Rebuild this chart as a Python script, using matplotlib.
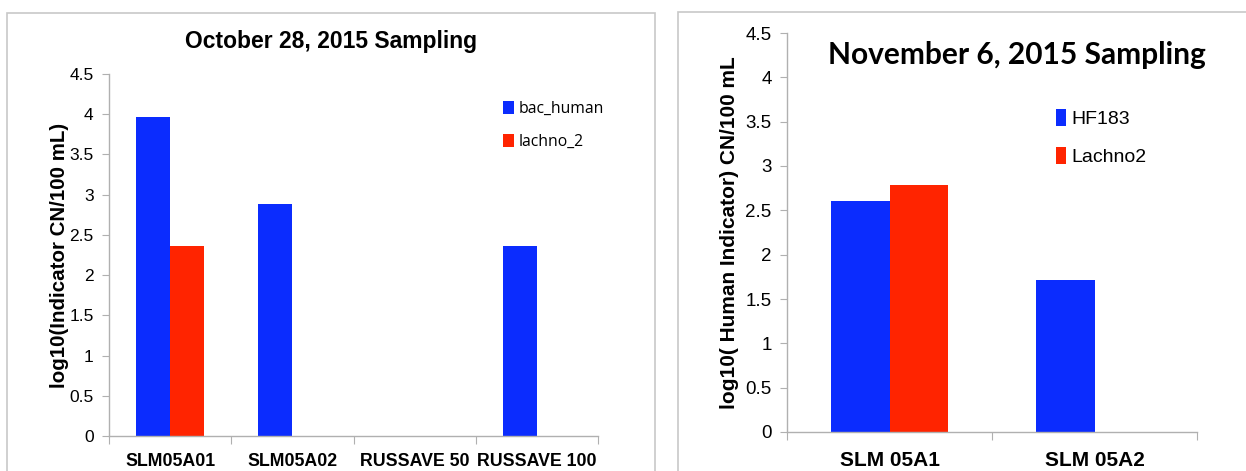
import matplotlib.pyplot as plt
import matplotlib.patches as mpatches
import numpy as np

# October 28 sampling
oct_sites = ['SLM05A01', 'SLM05A02', 'RUSSAVE 50', 'RUSSAVE 100']
oct_bac_human = [3.97, 2.88, 0.0, 2.36]
oct_lachno_2 = [2.36, 0.0, 0.0, 0.0]

# November 6 sampling
nov_sites = ['SLM 05A1', 'SLM 05A2']
nov_hf183 = [2.61, 1.71]
nov_lachno2 = [2.79, 0.0]

blue = '#0b2cfe'
red = '#ff2400'
gray = '#b0b0b0'

plt.rcParams['font.family'] = ['Liberation Sans', 'DejaVu Sans']

fig = plt.figure(figsize=(12.46, 4.71), dpi=100)

# panel frames
fig.add_artist(mpatches.Rectangle((7 / 1246, -0.05), 648 / 1246, 1 - 13 / 471 + 0.05,
                                  transform=fig.transFigure, fill=False, edgecolor='#c8c8c8', lw=1.2))
fig.add_artist(mpatches.Rectangle((678 / 1246, -0.05), 0.5, 1 - 12 / 471 + 0.05,
                                  transform=fig.transFigure, fill=False, edgecolor='#c8c8c8', lw=1.2))


def style_axes(ax, n, ymax):
    for s in ['top', 'right']:
        ax.spines[s].set_visible(False)
    for s in ['left', 'bottom']:
        ax.spines[s].set_color(gray)
        ax.spines[s].set_linewidth(1.0)
    ax.set_xlim(-0.5, n - 0.5)
    ax.set_ylim(0, ymax)
    ax.set_xticks(np.arange(n + 1) - 0.5)
    ax.set_xticklabels([])
    ax.tick_params(axis='x', which='major', length=6, color=gray, direction='out')
    ax.tick_params(axis='y', length=5, color=gray, direction='out', pad=6)


# left chart
ax1 = fig.add_axes([109 / 1246, 1 - 436 / 471, 489 / 1246, 362 / 471])
x = np.arange(len(oct_sites))
w = 0.28
b1 = ax1.bar(x - w / 2, oct_bac_human, width=w, color=blue, label='bac_human')
b2 = ax1.bar(x + w / 2, oct_lachno_2, width=w, color=red, label='lachno_2')
style_axes(ax1, len(oct_sites), 4.5)
ax1.set_yticks(np.arange(0, 4.51, 0.5))
ax1.set_yticklabels(['0', '0.5', '1', '1.5', '2', '2.5', '3', '3.5', '4', '4.5'], fontsize=12.5)
ax1.set_xticks(x, minor=True)
ax1.set_xticklabels(oct_sites, minor=True, fontsize=12.8, fontweight='bold')
ax1.tick_params(axis='x', which='minor', length=0, pad=12)
ax1.set_ylabel('log10(Indicator CN/100 mL)', fontsize=14.8, fontweight='bold', labelpad=0)
ax1.set_title('October 28, 2015 Sampling', fontsize=16.5, fontweight='bold', x=0.455, pad=19)
ax1.legend(handles=[b1, b2], loc='upper left', bbox_to_anchor=(0.805, 0.926), frameon=False,
           handlelength=0.7, handleheight=0.9, handletextpad=0.35, labelspacing=1.1,
           borderpad=0, borderaxespad=0, prop={'family': 'Open Sans', 'size': 11.3})

# right chart
ax2 = fig.add_axes([787 / 1246, 1 - 432 / 471, 410 / 1246, 399 / 471])
x2 = np.arange(len(nov_sites))
w2 = 0.285
c1 = ax2.bar(x2 - w2 / 2, nov_hf183, width=w2, color=blue, label='HF183')
c2 = ax2.bar(x2 + w2 / 2, nov_lachno2, width=w2, color=red, label='Lachno2')
style_axes(ax2, len(nov_sites), 4.5)
ax2.set_yticks(np.arange(0, 4.51, 0.5))
ax2.set_yticklabels(['0', '0.5', '1', '1.5', '2', '2.5', '3', '3.5', '4', '4.5'], fontsize=13.5)
ax2.set_xticks(x2, minor=True)
ax2.set_xticklabels(nov_sites, minor=True, fontsize=15, fontweight='bold')
ax2.tick_params(axis='x', which='minor', length=0, pad=14)
ax2.set_ylabel('log10( Human Indicator) CN/100 mL', fontsize=15, fontweight='bold', labelpad=5)
ax2.text(0.561, 0.945, 'November 6, 2015 Sampling', transform=ax2.transAxes, ha='center', va='center',
         fontsize=21.5, fontweight='bold', family='Lato')
ax2.legend(handles=[c1, c2], loc='upper left', bbox_to_anchor=(0.655, 0.81), frameon=False,
           handlelength=0.55, handleheight=1.0, handletextpad=0.25, labelspacing=0.95,
           borderpad=0, borderaxespad=0, prop={'size': 14})

fig.savefig('out.png', dpi=100)
